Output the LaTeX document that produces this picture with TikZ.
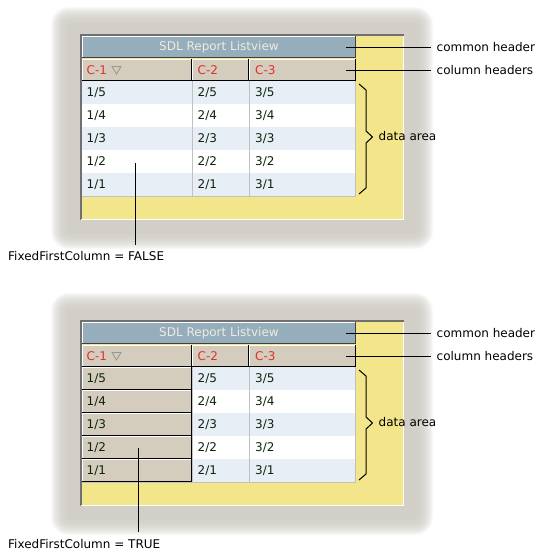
\documentclass[tikz,border=0pt]{standalone}
\usepackage{fontspec}
\setmainfont{DejaVu Sans}
\definecolor{shadowc}{RGB}{210,206,199}
\definecolor{winyellow}{RGB}{243,230,138}
\definecolor{hdrblue}{RGB}{150,173,187}
\definecolor{hdrtext}{RGB}{236,236,226}
\definecolor{colhdr}{RGB}{212,204,188}
\definecolor{colred}{RGB}{224,48,48}
\definecolor{rowblue}{RGB}{232,238,246}
\definecolor{gridc}{RGB}{192,192,192}
\definecolor{datac}{RGB}{12,36,12}
\definecolor{darkedge}{RGB}{64,64,64}
\definecolor{winedge}{RGB}{112,112,112}
\definecolor{trig}{RGB}{150,150,150}
\tikzset{
  txt/.style={font=\fontsize{12}{14}\selectfont, inner sep=0pt, anchor=west},
  hdrtxt/.style={txt, text=colred},
  titletxt/.style={font=\fontsize{12}{14}\selectfont, inner sep=0pt, text=hdrtext},
  datatxt/.style={txt, text=datac},
  calltxt/.style={font=\fontsize{12}{14}\selectfont, inner xsep=6pt, inner ysep=0pt, anchor=west, text=black},
  fixtxt/.style={font=\fontsize{12}{14}\selectfont, inner xsep=0pt, inner ysep=7pt, anchor=west, text=black},
  callline/.style={draw=black, line width=1pt},
  gridline/.style={draw=gridc, line width=1pt},
}
\newcommand{\raisedcell}[5]{%
  \fill[#5] (#1,#2) rectangle (#3,#4);
  \draw[white, line width=1pt] (#1+0.5,#4) -- (#1+0.5,#2+0.5) -- (#3,#2+0.5);
  \draw[black, line width=1pt] (#1,#4-0.5) -- (#3-0.5,#4-0.5) -- (#3-0.5,#2);
}
% #1 name suffix, #2 fixed first column (0/1)
\newcommand{\lvpanel}[2]{%
  % soft shadow
  \foreach \i in {0,...,17}{
    \pgfmathsetmacro\rr{18-\i}
    \fill[shadowc, opacity=0.12, rounded corners=\rr pt] (51+\i,7+\i) rectangle (433-\i,249-\i);
  }
  % window
  \fill[winyellow] (80,34) rectangle (404,220);
  \draw[winedge, line width=1.5pt] (80.75,220) -- (80.75,34.75) -- (404,34.75);
  \draw[white, line width=1.5pt] (81,219.25) -- (403.25,219.25) -- (403.25,35.5);
  % common header
  \fill[hdrblue] (82,36) rectangle (356,58);
  \draw[white, line width=1pt] (82.5,58) -- (82.5,36.5) -- (356,36.5);
  \draw[darkedge, line width=1pt] (82,57.5) -- (355.5,57.5) -- (355.5,36);
  \node[titletxt] (title#1) at (219,47) {SDL Report Listview};
  % column headers
  \raisedcell{82}{59}{192}{81}{colhdr}
  \raisedcell{192}{59}{249}{81}{colhdr}
  \raisedcell{249}{59}{356}{81}{colhdr}
  \node[hdrtxt] (ca#1) at (86.5,70) {C-1};
  \node[hdrtxt] (cb#1) at (197.5,70) {C-2};
  \node[hdrtxt] (cc#1) at (255,70) {C-3};
  \draw[trig, line width=0.8pt] (112,66.5) -- (121,66.5) -- (116.5,74) -- cycle;
  % data rows
  \foreach \r in {0,...,4}{
    \pgfmathtruncatemacro\odd{mod(\r,2)}
    \ifnum\odd=0
      \fill[rowblue] (82,81+23*\r) rectangle (356,104+23*\r);
    \else
      \fill[white] (82,81+23*\r) rectangle (356,104+23*\r);
    \fi
    \draw[gridline] (82,104+23*\r) -- (356,104+23*\r);
  }
  \draw[gridline] (192.5,81) -- (192.5,196);
  \draw[gridline] (249.5,81) -- (249.5,196);
  \draw[gridline] (355.5,81) -- (355.5,196);
  \ifnum#2=1
    \foreach \r in {0,...,4}{
      \raisedcell{82}{81+23*\r}{192}{104+23*\r}{colhdr}
    }
  \fi
  \foreach \r in {0,...,4}{
    \pgfmathtruncatemacro\v{5-\r}
    \node[datatxt] (da\v#1) at (86.5,92.5+23*\r) {1/\v};
    \node[datatxt] (db\v#1) at (197.5,92.5+23*\r) {2/\v};
    \node[datatxt] (dc\v#1) at (255,92.5+23*\r) {3/\v};
  }
  % callouts
  \coordinate (pcommon#1) at (346,47);
  \coordinate (pcolumn#1) at (346,70);
  \node[calltxt] (lcommon#1) at (430.5,47) {common header};
  \node[calltxt] (lcolumn#1) at (430.5,70) {column headers};
  \draw[callline] (pcommon#1) -- (lcommon#1.west);
  \draw[callline] (pcolumn#1) -- (lcolumn#1.west);
  \coordinate (btop#1) at (359,84);
  \coordinate (btip#1) at (372.5,137);
  \draw[callline] (btop#1) -- (366,90) -- (366,131) -- (btip#1) -- (366,143) -- (366,188) -- (359,194);
  \node[txt] (ldata#1) at (378.5,136.5) {data area};
}
\begin{document}
\begin{tikzpicture}[x=1pt, y=-1pt]
  \useasboundingbox (0,0) rectangle (549,557);
  \fill[white] (0,0) rectangle (549,557);
  \begin{scope}
    \lvpanel{a}{0}
  \end{scope}
  \begin{scope}[shift={(0,286)}]
    \lvpanel{b}{1}
  \end{scope}
  \node[fixtxt] (fixa) at (8,256.5) {FixedFirstColumn = FALSE};
  \coordinate (pfa) at (135,163);
  \draw[callline] (pfa) -- (pfa |- fixa.north);
  \node[fixtxt] (fixb) at (8,544) {FixedFirstColumn = TRUE};
  \coordinate (pfb) at (138.5,448);
  \draw[callline] (pfb) -- (pfb |- fixb.north);
\end{tikzpicture}
\end{document}
